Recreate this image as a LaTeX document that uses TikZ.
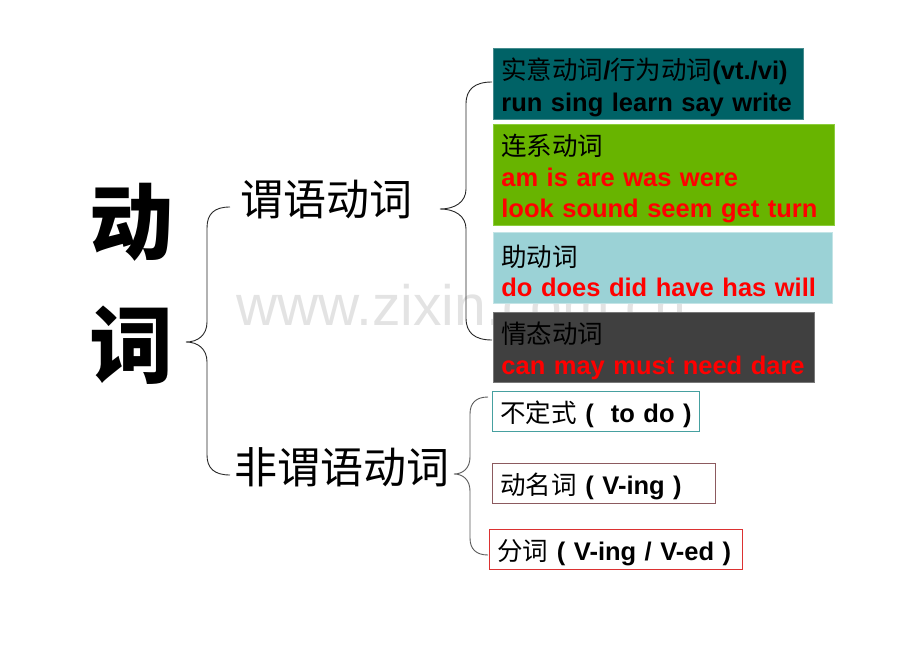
\documentclass[tikz,border=0pt]{standalone}
\usepackage{fontspec}
\usepackage{xcolor}
\usepackage{tikz}
\usetikzlibrary{positioning,calc}
\setmainfont{Liberation Sans}
\newfontfamily\cjk{Noto Sans CJK SC}
\newcommand{\hz}[1]{{\cjk\mdseries #1}}

\definecolor{tealfill}{RGB}{0,98,102}
\definecolor{tealline}{RGB}{70,140,142}
\definecolor{greenfill}{RGB}{104,180,0}
\definecolor{greenline}{RGB}{140,205,60}
\definecolor{bluefill}{RGB}{155,210,214}
\definecolor{blueline}{RGB}{195,228,230}
\definecolor{darkfill}{RGB}{64,64,64}
\definecolor{darkline}{RGB}{120,120,120}
\definecolor{wordred}{RGB}{255,0,0}
\definecolor{infline}{RGB}{70,160,160}
\definecolor{gerline}{RGB}{140,90,95}
\definecolor{partline}{RGB}{220,50,50}

\tikzset{
  vbox/.style={anchor=north west, inner xsep=8pt, inner ysep=0pt, align=left,
    line width=0.8pt, font=\fontsize{25.5}{31}\selectfont\bfseries,
    execute at begin node=\rule{0pt}{28pt}},
  brace/.style={line width=0.9pt, black!85},
  level/.style={font=\cjk\fontsize{43}{43}\selectfont, inner sep=0pt}
}

\begin{document}
\begin{tikzpicture}[x=1pt,y=-1pt]
    \useasboundingbox (0,0) rectangle (920,652);

    % watermark
    \node[anchor=base, font=\fontsize{57}{57}\selectfont, text=black!11] (mark) at (461,325) {www.zixin.com.cn};

    % Root
    \node[font=\cjk\bfseries\fontsize{84}{123}\selectfont, align=center] (root) at (131,284) {动\\词};

    % Two kinds
    \node[level] (pred) at (326,200) {谓语动词};
    \node[level] (nonpred) at (342,467) {非谓语动词};

    % Predicate verbs
    \node[vbox, draw=tealline, fill=tealfill, text width=294pt, minimum height=71pt] (notional) at (493,48)
        {\hz{实意动词}/\hz{行为动词}(vt./vi)\\[1pt]run sing learn say write};
    \node[vbox, draw=greenline, fill=greenfill, text width=325pt, minimum height=101pt] (link) at (493,124)
        {\hz{连系动词}\\\color{wordred}am is are was were\\\color{wordred}look sound seem get turn};
    \node[vbox, draw=blueline, fill=bluefill, text width=323pt, minimum height=71pt] (aux) at (493,232)
        {\hz{助动词}\\[-1pt]\color{wordred}do does did have has will};
    \node[vbox, draw=darkline, fill=darkfill, text width=305pt, minimum height=70pt] (modal) at (493,312)
        {\hz{情态动词}\\\color{wordred}can may must need dare};

    % Non-predicate verbs
    \node[vbox, draw=infline, fill=white, text width=191pt, minimum height=40pt] (inf) at (492,391)
        {\mbox{\hz{不定式} (\ \ to do )}};
    \node[vbox, draw=gerline, fill=white, text width=207pt, minimum height=40pt] (ger) at (492,463)
        {\hz{动名词} ( V-ing )};
    \node[vbox, draw=partline, fill=white, text width=237pt, minimum height=40pt] (part) at (489,529)
        {\mbox{\hz{分词} ( V-ing / V-ed )}};

    % Braces
    \coordinate (tip0) at (186,342);
    \coordinate (tip1) at (440,209);
    \coordinate (tip2) at (454,474);
    \coordinate (end0a) at (230,207);
    \coordinate (end0b) at (230,475);
    \coordinate (end1a) at (492,82);
    \coordinate (end1b) at (492,340);
    \coordinate (end2a) at (488,397);
    \coordinate (end2b) at (488,555);

    \draw[brace] (end0a) .. controls (214,207) and (207,214) .. (207,228) -- (207,322)
        .. controls (207,335) and (198,342) .. (tip0)
        .. controls (198,342) and (207,349) .. (207,362) -- (207,455)
        .. controls (207,468) and (214,475) .. (end0b);
    \draw[brace] (end1a) .. controls (475,82) and (466,89) .. (466,104) -- (466,189)
        .. controls (466,202) and (455,209) .. (tip1)
        .. controls (455,209) and (466,216) .. (466,229) -- (466,318)
        .. controls (466,333) and (475,340) .. (end1b);
    \draw[brace, black!65] (end2a) .. controls (476,397) and (470,403) .. (470,414) -- (470,457)
        .. controls (470,468) and (463,474) .. (tip2)
        .. controls (463,474) and (470,480) .. (470,491) -- (470,538)
        .. controls (470,549) and (476,555) .. (end2b);
\end{tikzpicture}
\end{document}
